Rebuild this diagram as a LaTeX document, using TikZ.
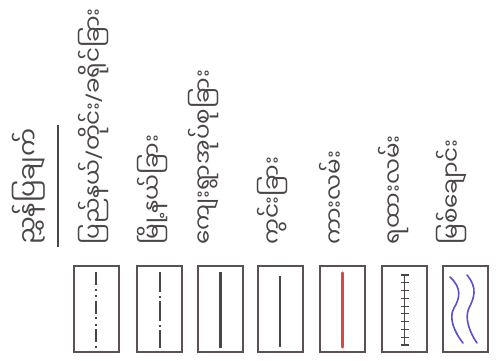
\documentclass[tikz,border=0pt]{standalone}
\usepackage{fontspec}
\usetikzlibrary{calc}
\newfontfamily\mya[Script=Myanmar]{Noto Sans Myanmar UI}
\newfontfamily\slf{Noto Sans}
\definecolor{ink}{HTML}{4A4646}
\definecolor{boxc}{HTML}{5A5250}
\definecolor{roadred}{HTML}{D84848}
\definecolor{riverblue}{HTML}{5A50D0}
\newcommand{\myslash}{{\slf/}}
\begin{document}
\begin{tikzpicture}[x=1pt,y=-1pt,
  lbl/.style={rotate=90,anchor=west,inner sep=0pt,text=ink,font=\mya\fontsize{23}{26}\selectfont},
  hdr/.style={rotate=90,anchor=west,inner sep=0pt,text=ink,font=\mya\fontsize{25}{28}\selectfont},
  legbox/.style={draw=boxc,line width=2pt,minimum width=45pt,minimum height=86pt,inner sep=0pt},
  sym/.style={line width=1.2pt,draw=ink}]
\useasboundingbox (0,0) rectangle (501,360);
\fill[white] (0,0) rectangle (501,360);
% header
\node[hdr] (h) at (28.5,245) {ညွှန်ပြချက်};
\draw[ink,line width=1.2pt] (58,125) coordinate (ua) -- (58,247) coordinate (ub);
% labels
\node[lbl] (l1) at (93.5,245) {ပြည်နယ်\myslash တိုင်း\myslash ခရိုင်ခြား};
\node[lbl] (l2) at (152.5,245) {မြို့နယ်ခြား};
\node[lbl] (l3) at (204,245) {ကျေးရွာအုပ်စုခြား};
\node[lbl] (l4) at (273,245) {ကွင်းခြား};
\node[lbl] (l5) at (331.5,245) {ကားလမ်း};
\node[lbl] (l6) at (393.5,245) {ရထားလမ်း};
\node[lbl] (l7) at (451.5,245) {မြစ်ချောင်း};
% boxes
\node[legbox] (b1) at (96,309) {};
\node[legbox] (b2) at (159.5,309) {};
\node[legbox] (b3) at (220.5,309) {};
\node[legbox] (b4) at (280,309) {};
\node[legbox] (b5) at (342.5,309) {};
\node[legbox] (b6) at (404.5,309) {};
\node[legbox] (b7) at (465.5,309) {};
% symbols
\draw[sym,line width=2pt,dash pattern=on 13pt off 3.5pt on 2pt off 4.5pt on 2pt off 3.5pt] ([yshift=-7pt]b1.north) -- ([yshift=5pt]b1.south);
\draw[sym,line width=2pt,dash pattern=on 20pt off 3.5pt on 2pt off 3.5pt] ([yshift=-7pt]b2.north) -- ([yshift=5pt]b2.south);
\draw[sym,line width=2.4pt] ([yshift=-7pt]b3.north) -- ([yshift=5pt]b3.south);
\draw[sym,line width=1.2pt] ([yshift=-11pt]b4.north) -- ([yshift=6pt]b4.south);
\draw[draw=roadred,line width=3.4pt,line cap=round] ([yshift=-8pt]b5.north) -- ([yshift=6pt]b5.south);
\draw[sym,line width=1.1pt] ([yshift=-10pt]b6.north) coordinate (t0) -- ([yshift=8pt]b6.south) coordinate (t1);
\foreach \i in {0,...,9} {
  \draw[sym,line width=1.1pt] ($(t0)!\i/9!(t1)+(-4,0)$) -- ($(t0)!\i/9!(t1)+(4,0)$);
}
\draw[riverblue,line width=1.6pt,line cap=round] (450,277) .. controls (462,288) and (460,298) .. (454,308) .. controls (448,318) and (455,333) .. (463,343);
\draw[riverblue,line width=1.6pt,line cap=round] (467,275) .. controls (478,288) and (474,298) .. (469,308) .. controls (464,318) and (470,333) .. (477,343);
\end{tikzpicture}
\end{document}
